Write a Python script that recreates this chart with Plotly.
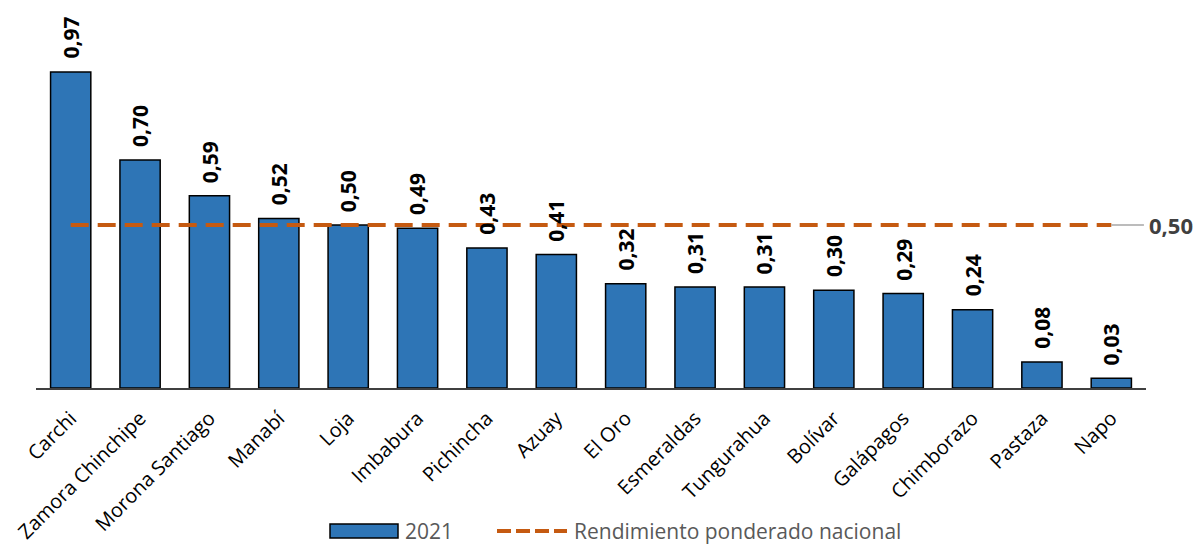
import plotly.graph_objects as go

provinces = ["Carchi", "Zamora Chinchipe", "Morona Santiago", "Manabí", "Loja", "Imbabura",
             "Pichincha", "Azuay", "El Oro", "Esmeraldas", "Tungurahua", "Bolívar",
             "Galápagos", "Chimborazo", "Pastaza", "Napo"]
rend_2021 = [0.97, 0.70, 0.59, 0.52, 0.50, 0.49, 0.43, 0.41, 0.32, 0.31, 0.31, 0.30,
             0.29, 0.24, 0.08, 0.03]
nacional = 0.50
legend_names = ["2021", "Rendimiento ponderado nacional"]

BAR_COLOR = "#2E75B6"
LINE_COLOR = "#C55A11"

fmt = lambda v: f"{v:.2f}".replace(".", ",")

# page body has an 8px margin; size the figure so it fits the 1202x546 window
OFF = 8
W, H = 1202 - OFF, 546 - OFF
ML, MR, MT, MB = 36 - OFF, 56, 2, 158
PW, PH = W - ML - MR, H - MT - MB
px_x = lambda px: (px - OFF - ML) / PW          # reference pixel -> paper x
px_y = lambda py: (H - MB - (py - OFF)) / PH    # reference pixel -> paper y

fig = go.Figure()
fig.add_trace(go.Bar(
    x=provinces, y=rend_2021, name=legend_names[0],
    marker=dict(color=BAR_COLOR, line=dict(color="#000000", width=1.5)),
    width=0.58, showlegend=False,
))
fig.add_trace(go.Scatter(
    x=provinces, y=[nacional] * len(provinces), name=legend_names[1],
    mode="lines", line=dict(color=LINE_COLOR, width=4, dash="18px,9px"),
    showlegend=False,
))

for p, v in zip(provinces, rend_2021):
    fig.add_annotation(x=p, y=v, text=fmt(v), textangle=-90, showarrow=False,
                       yanchor="bottom", yshift=11,
                       font=dict(family="Open Sans", size=21, color="#000000", weight="bold"))

# leader line and national label
fig.add_shape(type="line", xref="x", yref="y", x0=len(provinces) - 1, x1=len(provinces) - 0.53,
              y0=nacional, y1=nacional, line=dict(color="#A6A6A6", width=1.5))
fig.add_annotation(xref="paper", yref="y", x=1.0, y=nacional, xanchor="left", xshift=1,
                   text=fmt(nacional), showarrow=False,
                   font=dict(family="Open Sans", size=22, color="#404040", weight="bold"))

# custom legend
ly = px_y(531)
fig.add_shape(type="rect", xref="paper", yref="paper",
              x0=px_x(330), x1=px_x(398), y0=px_y(524), y1=px_y(538),
              fillcolor=BAR_COLOR, line=dict(color="#000000", width=1.5))
fig.add_annotation(xref="paper", yref="paper", x=px_x(403), y=ly, xanchor="left", yanchor="middle",
                   text=legend_names[0], showarrow=False,
                   font=dict(family="Open Sans", size=21, color="#595959"))
fig.add_shape(type="line", xref="paper", yref="paper",
              x0=px_x(497), x1=px_x(567), y0=ly, y1=ly,
              line=dict(color=LINE_COLOR, width=4, dash="14px,5px"))
fig.add_annotation(xref="paper", yref="paper", x=px_x(572), y=ly, xanchor="left", yanchor="middle",
                   text=legend_names[1], showarrow=False,
                   font=dict(family="Open Sans", size=21, color="#595959"))

fig.update_layout(
    width=W, height=H,
    margin=dict(l=ML, r=MR, t=MT, b=MB, autoexpand=False),
    plot_bgcolor="white", paper_bgcolor="white",
    showlegend=False,
    xaxis=dict(showline=True, linecolor="#404040", linewidth=1.5, tickangle=-45,
               tickfont=dict(family="Open Sans", size=20, color="#000000"),
               ticklabelstandoff=9,
               ticks="", showgrid=False, automargin=False),
    yaxis=dict(visible=False, range=[0, 1.16], showgrid=False, automargin=False),
)
fig.write_html("out.html")
